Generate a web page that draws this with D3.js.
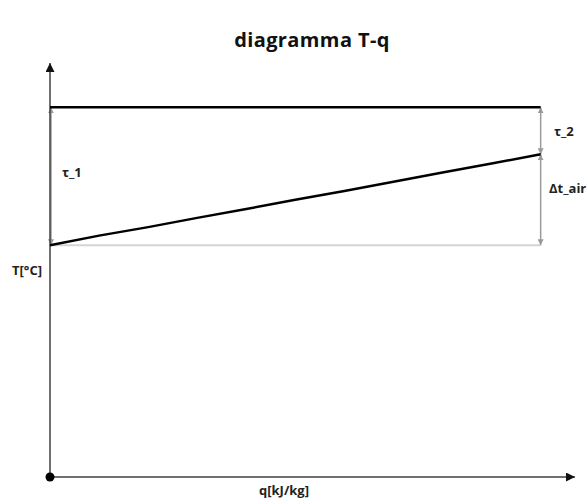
<!DOCTYPE html>
<html>
<head>
<meta charset="utf-8">
<script src="https://cdn.jsdelivr.net/npm/d3@7"></script>
<style>
  html, body { margin: 0; padding: 0; background: #fff; }
  svg { display: block; }
</style>
</head>
<body>
<svg id="chart" width="587" height="499"></svg>
<script>
// Heat-exchanger T-q diagram: hot stream at constant temperature, air heating up
const qMax = 107;           // end of the q axis (arrow tip)
const tMax = 112;           // end of the T axis (arrow tip)
const hotQ = [0, 100];
const hotT = [100, 100];
const airQ = [0, 10, 20, 30, 40, 50, 60, 70, 80, 90, 100];
const airT = [62.7, 65.3, 67.6, 70.1, 72.5, 75.0, 77.4, 79.9, 82.4, 84.8, 87.3];
const baseT = 62.7;         // air inlet temperature level
const labels = { title: "diagramma T-q", xLabel: "q[kJ/kg]", yLabel: "T[°C]",
                 tau1: "τ_1", tau2: "τ_2", dtAir: "Δt_air" };

const svg = d3.select("#chart");
const x = d3.scaleLinear().domain([0, qMax]).range([50, 575]);
const y = d3.scaleLinear().domain([0, tMax]).range([477, 63]);

const defs = svg.append("defs");
function marker(id, color, w, h, orient) {
  defs.append("marker")
    .attr("id", id).attr("viewBox", "0 0 10 10")
    .attr("refX", 10).attr("refY", 5)
    .attr("markerWidth", w).attr("markerHeight", h)
    .attr("markerUnits", "userSpaceOnUse")
    .attr("orient", orient)
    .append("path").attr("d", "M0,0 L10,5 L0,10 Z").attr("fill", color);
}
marker("axisArrow", "#111", 10, 9, "auto");
marker("grayArrow", "#9a9a9a", 6, 6, "auto-start-reverse");

svg.append("text")
  .attr("x", 312).attr("y", 47)
  .attr("text-anchor", "middle")
  .attr("font-family", "Open Sans, sans-serif")
  .attr("font-weight", "bold").attr("font-size", 20)
  .attr("letter-spacing", 0.4)
  .attr("fill", "#111")
  .text(labels.title);

// inlet temperature reference (light gray)
svg.append("line")
  .attr("x1", x(0)).attr("x2", x(100))
  .attr("y1", y(baseT)).attr("y2", y(baseT))
  .attr("stroke", "#d4d4d4").attr("stroke-width", 2);

// dimension arrows
function dim(q, t0, t1) {
  svg.append("line")
    .attr("x1", x(q)).attr("x2", x(q))
    .attr("y1", y(t0)).attr("y2", y(t1))
    .attr("stroke", "#9a9a9a").attr("stroke-width", 1.5)
    .attr("marker-start", "url(#grayArrow)")
    .attr("marker-end", "url(#grayArrow)");
}
dim(0.2, hotT[0], baseT);
dim(100, hotT[1], airT[airT.length - 1]);
dim(100, airT[airT.length - 1], baseT);

// axes
svg.append("line")
  .attr("x1", x(0)).attr("x2", x(0))
  .attr("y1", y(0)).attr("y2", y(tMax))
  .attr("stroke", "#404040").attr("stroke-width", 1.5)
  .attr("marker-end", "url(#axisArrow)");
svg.append("line")
  .attr("x1", x(0)).attr("x2", x(qMax))
  .attr("y1", y(0)).attr("y2", y(0))
  .attr("stroke", "#404040").attr("stroke-width", 1.5)
  .attr("marker-end", "url(#axisArrow)");
svg.append("circle")
  .attr("cx", x(0)).attr("cy", y(0)).attr("r", 4.5).attr("fill", "#000");

// hot stream and air stream
const line = d3.line().x(d => x(d[0])).y(d => y(d[1]));
svg.append("path")
  .attr("d", line(hotQ.map((q, i) => [q, hotT[i]])))
  .attr("fill", "none").attr("stroke", "#000").attr("stroke-width", 2.5);
svg.append("path")
  .attr("d", line(airQ.map((q, i) => [q, airT[i]])))
  .attr("fill", "none").attr("stroke", "#000").attr("stroke-width", 2.5)
  .attr("stroke-linejoin", "round");

// labels
const font = "Open Sans, sans-serif";
function label(txt, px, py, anchor) {
  svg.append("text")
    .attr("x", px).attr("y", py)
    .attr("text-anchor", anchor || "start")
    .attr("font-family", font).attr("font-weight", "bold")
    .attr("font-size", 13).attr("fill", "#222")
    .text(txt);
}
label(labels.tau1, 62, 177);
label(labels.tau2, 554, 136);
label(labels.dtAir, 549, 193);
label(labels.yLabel, 12, 275);
label(labels.xLabel, 284, 495, "middle");
</script>
</body>
</html>
